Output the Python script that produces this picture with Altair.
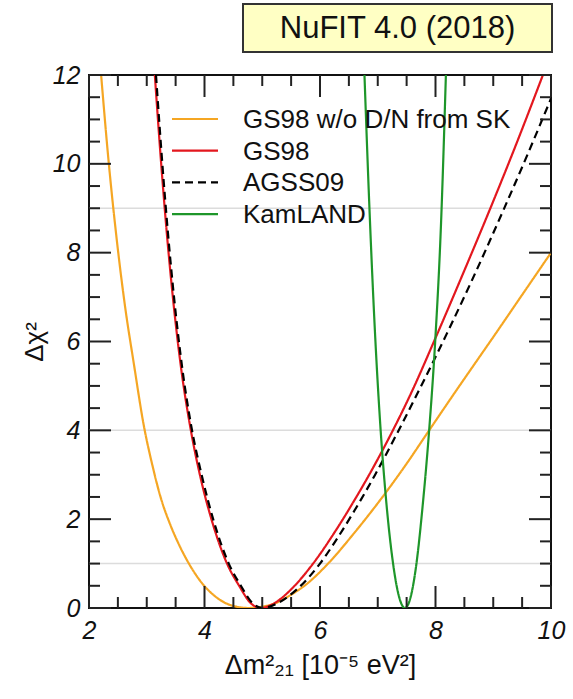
import altair as alt
import pandas as pd

# ---------------- data ----------------
series_names = ["GS98 w/o D/N from SK", "GS98", "AGSS09", "KamLAND"]
series_colors = ["#F5A623", "#E3171E", "#000000", "#1E962A"]
series_dash = [[1, 0], [1, 0], [8, 5], [1, 0]]

orange_x = [2.21, 2.34, 2.48, 2.62, 2.78, 2.95, 3.10, 3.25, 3.40, 3.55, 3.73, 3.95, 4.15,
            4.35, 4.55, 4.75, 5.00, 5.25, 5.50, 5.75, 6.14, 6.60, 7.14, 7.50, 7.89, 8.34,
            8.60, 9.00, 9.50, 10.0]
orange_y = [12.0, 10.05, 8.3, 6.83, 5.47, 4.1, 3.2, 2.45, 1.9, 1.45, 1.0, 0.57, 0.3,
            0.12, 0.03, 0.0, 0.03, 0.12, 0.3, 0.52, 1.0, 1.7, 2.6, 3.25, 4.0, 4.86,
            5.35, 6.1, 7.05, 8.0]

red_x = [3.14, 3.25, 3.35, 3.46, 3.60, 3.75, 3.92, 4.12, 4.39, 4.60, 4.80, 4.97, 5.20,
         5.50, 5.88, 6.30, 6.63, 6.83, 7.07, 7.27, 7.60, 7.99, 8.50, 8.95, 9.40, 9.86]
red_y = [12.0, 10.0, 8.4, 6.9, 5.35, 4.1, 3.0, 2.0, 1.0, 0.5, 0.11, 0.0, 0.1,
         0.42, 1.0, 1.8, 2.5, 2.95, 3.52, 4.02, 4.9, 6.05, 7.6, 9.0, 10.45, 12.0]

black_x = [3.16, 3.27, 3.37, 3.48, 3.62, 3.77, 3.95, 4.15, 4.42, 4.63, 4.83, 5.00, 5.25,
           5.60, 6.00, 6.30, 6.60, 6.95, 7.12, 7.33, 7.76, 8.19, 8.60, 9.18, 9.60, 10.0]
black_y = [12.0, 10.0, 8.4, 6.9, 5.35, 4.1, 3.0, 2.0, 1.0, 0.5, 0.11, 0.0, 0.1,
           0.42, 1.0, 1.57, 2.2, 2.99, 3.4, 3.92, 5.02, 6.16, 7.29, 8.97, 10.23, 11.47]

green_x = [6.77, 6.85, 6.96, 7.04, 7.14, 7.25, 7.36, 7.47, 7.57, 7.67, 7.77, 7.89, 7.99,
           8.10, 8.18]
green_y = [12.0, 9.2, 6.0, 4.2, 2.5, 1.15, 0.3, 0.0, 0.25, 1.0, 2.2, 4.0, 5.9,
           8.8, 12.0]

grid_levels = [1, 4, 9]
x_major = [2, 4, 6, 8, 10]
x_minor = [2.5, 3, 3.5, 4.5, 5, 5.5, 6.5, 7, 7.5, 8.5, 9, 9.5]
y_major = [0, 2, 4, 6, 8, 10, 12]
y_minor = [0.5, 1, 1.5, 2.5, 3, 3.5, 4.5, 5, 5.5, 6.5, 7, 7.5, 8.5, 9, 9.5, 10.5, 11, 11.5]

title_text = "NuFIT 4.0 (2018)"
x_title = "Δm²₂₁ [10⁻⁵ eV²]"
y_title = "Δχ²"

# ---------------- build ----------------
W, H = 462, 533
FONT = "Liberation Sans"

frames = []
for name, xs_, ys_ in zip(series_names, [orange_x, red_x, black_x, green_x],
                          [orange_y, red_y, black_y, green_y]):
    frames.append(pd.DataFrame({"x": xs_, "y": ys_, "series": name}))
curves = pd.concat(frames, ignore_index=True)

xs = alt.Scale(domain=[2, 10], nice=False, zero=False)
ys = alt.Scale(domain=[0, 12], nice=False, zero=False)

x_axis = alt.Axis(
    values=x_major, title=x_title, grid=False, ticks=False, domain=False,
    labelFont=FONT, labelFontSize=25, labelFontStyle="italic", labelColor="#111",
    labelPadding=10, labelFlush=False,
    titleFont=FONT, titleFontSize=27, titleFontWeight="normal", titleColor="#111",
    titlePadding=9)
y_axis = alt.Axis(
    values=y_major, title=y_title, grid=False, ticks=False, domain=False,
    labelFont=FONT, labelFontSize=25, labelFontStyle="italic", labelColor="#111",
    labelPadding=9, labelFlush=False,
    titleFont=FONT, titleFontSize=26, titleFontWeight="normal", titleColor="#111",
    titlePadding=5)


def X(field):
    return alt.X(field, scale=xs, axis=x_axis, title=x_title)


def Y(field):
    return alt.Y(field, scale=ys, axis=y_axis, title=y_title)


grid = alt.Chart(pd.DataFrame({"v": grid_levels})).mark_rule(
    color="#dcdcdc", strokeWidth=1.5
).encode(y=Y("v:Q"))

lines = alt.Chart(curves).mark_line(clip=True, strokeWidth=2.2, interpolate="monotone").encode(
    x=X("x:Q"),
    y=Y("y:Q"),
    color=alt.Color("series:N", scale=alt.Scale(domain=series_names, range=series_colors),
                    legend=None),
    strokeDash=alt.StrokeDash("series:N", scale=alt.Scale(domain=series_names, range=series_dash),
                              legend=None),
    order=alt.Order("x:Q"),
)

layers = [grid, lines]


def xticks(vals, length):
    df = pd.DataFrame({"v": vals})
    bot = alt.Chart(df).mark_rule(color="#222", strokeWidth=2).encode(
        x=X("v:Q"), y=alt.value(H), y2=alt.value(H - length))
    top = alt.Chart(df).mark_rule(color="#222", strokeWidth=2).encode(
        x=X("v:Q"), y=alt.value(0), y2=alt.value(length))
    return [bot, top]


def yticks(vals, length):
    df = pd.DataFrame({"v": vals})
    left = alt.Chart(df).mark_rule(color="#222", strokeWidth=2).encode(
        y=Y("v:Q"), x=alt.value(0), x2=alt.value(length))
    right = alt.Chart(df).mark_rule(color="#222", strokeWidth=2).encode(
        y=Y("v:Q"), x=alt.value(W), x2=alt.value(W - length))
    return [left, right]


layers += xticks(x_major, 22) + xticks(x_minor, 11) + yticks(y_major, 22) + yticks(y_minor, 11)

# legend (drawn inside the plot)
for i, (name, col, dash) in enumerate(zip(series_names, series_colors, series_dash)):
    yy = 44 + 31.7 * i
    df = pd.DataFrame({"label": [name]})
    layers.append(alt.Chart(df).mark_rule(color=col, strokeWidth=2.2, strokeDash=dash).encode(
        x=alt.value(83), x2=alt.value(129), y=alt.value(yy)))
    layers.append(alt.Chart(df).mark_text(
        align="left", baseline="middle", font=FONT, fontSize=26, color="#111"
    ).encode(x=alt.value(154), y=alt.value(yy + 1), text="label:N"))

# title box
tdf = pd.DataFrame({"label": [title_text]})
layers.append(alt.Chart(tdf).mark_rect(fill="#FFFFC4", stroke="#333", strokeWidth=2).encode(
    x=alt.value(154), x2=alt.value(463), y=alt.value(-71), y2=alt.value(-23)))
layers.append(alt.Chart(tdf).mark_text(
    align="center", baseline="middle", font=FONT, fontSize=31, color="#111"
).encode(x=alt.value(308.5), y=alt.value(-46), text="label:N"))

chart = alt.layer(*layers).properties(
    width=W, height=H,
    padding={"left": 89, "top": 75, "right": 22, "bottom": 91},
    autosize=alt.AutoSizeParams(type="none"),
    background="white",
).configure_view(stroke="#111", strokeWidth=2)

chart.save("out.html", embed_options={"renderer": "svg", "actions": False})
